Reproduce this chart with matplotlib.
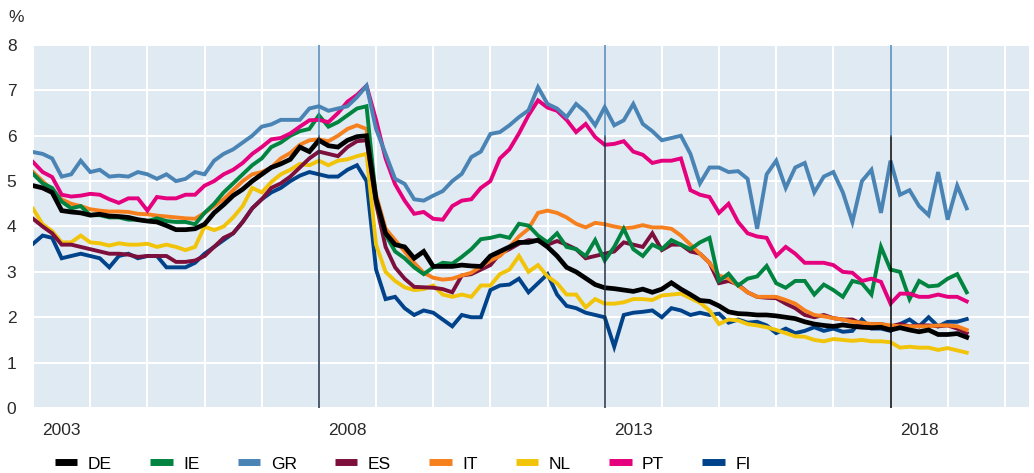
import numpy as np
import matplotlib.pyplot as plt

# bi-monthly observations, Jan 2003 .. May 2019
dates = 2003 + np.arange(99) / 6

de = [4.9, 4.85, 4.75, 4.35, 4.32, 4.3, 4.25, 4.27, 4.23, 4.22, 4.2, 4.15, 4.12, 4.1, 4.02, 3.93, 3.93, 3.95, 4.05, 4.3, 4.48, 4.68, 4.82, 5.0, 5.15,
      5.3, 5.38, 5.48, 5.75, 5.65, 5.9, 5.78, 5.75, 5.9, 5.98, 6.0,
      4.6, 3.85, 3.6, 3.55, 3.3, 3.45, 3.12, 3.12, 3.12, 3.15,
      3.13, 3.12, 3.35, 3.45, 3.55, 3.65, 3.65, 3.7, 3.55, 3.35, 3.1, 3.0, 2.86, 2.72, 2.65, 2.63, 2.6, 2.57, 2.62,
      2.55, 2.62, 2.76, 2.62, 2.5, 2.37, 2.35, 2.25, 2.12, 2.08, 2.07, 2.05, 2.05, 2.03, 2.0, 1.97, 1.9, 1.85,
      1.82, 1.8, 1.83, 1.8, 1.78, 1.77, 1.78, 1.72, 1.77, 1.72, 1.68, 1.72, 1.62, 1.62, 1.64, 1.56]

ie = [5.16, 4.95, 4.85, 4.55, 4.4, 4.45, 4.25, 4.25, 4.2, 4.2, 4.15, 4.15, 4.12, 4.18, 4.12, 4.1, 4.1, 4.05, 4.3, 4.5, 4.75, 4.95, 5.15, 5.35, 5.5,
      5.75, 5.85, 6.0, 6.1, 6.15, 6.45, 6.2, 6.3, 6.45, 6.6, 6.65,
      4.6, 3.82, 3.45, 3.3, 3.1, 2.95, 3.1, 3.2, 3.18, 3.33,
      3.5, 3.72, 3.75, 3.8, 3.75, 4.06, 4.02, 3.8, 3.65, 3.85, 3.55, 3.5, 3.35, 3.7, 3.25, 3.55, 3.95, 3.5, 3.35,
      3.6, 3.5, 3.7, 3.6, 3.5, 3.65, 3.75, 2.8, 2.96, 2.7, 2.85, 2.9, 3.13, 2.75, 2.65, 2.8, 2.8, 2.5,
      2.72, 2.6, 2.45, 2.8, 2.75, 2.5, 3.55, 3.05, 3.0, 2.4, 2.8, 2.68, 2.7, 2.85, 2.95, 2.55]

gr = [5.64, 5.6, 5.5, 5.1, 5.15, 5.45, 5.2, 5.25, 5.1, 5.12, 5.1, 5.2, 5.15, 5.05, 5.15, 5.0, 5.05, 5.2, 5.15, 5.45, 5.6, 5.7, 5.85, 6.0, 6.2,
      6.25, 6.35, 6.35, 6.35, 6.6, 6.65, 6.55, 6.6, 6.65, 6.85, 7.1,
      6.15, 5.6, 5.05, 4.94, 4.6, 4.57, 4.68, 4.78, 5.0, 5.16,
      5.53, 5.65, 6.04, 6.08, 6.23, 6.41, 6.56, 7.07, 6.7, 6.6, 6.41, 6.7, 6.52, 6.23, 6.63, 6.23, 6.34, 6.7, 6.26,
      6.1, 5.9, 5.95, 6.0, 5.6, 4.95, 5.3, 5.3, 5.2, 5.22, 5.05, 3.95, 5.15, 5.45, 4.85, 5.3, 5.4, 4.75,
      5.1, 5.2, 4.75, 4.1, 5.0, 5.25, 4.3, 5.45, 4.7, 4.8, 4.45, 4.25, 5.2, 4.15, 4.9, 4.4]

es = [4.17, 4.0, 3.85, 3.6, 3.6, 3.55, 3.5, 3.45, 3.4, 3.4, 3.38, 3.33, 3.35, 3.35, 3.35, 3.22, 3.22, 3.25, 3.35, 3.55, 3.75, 3.85, 4.1, 4.4, 4.6,
      4.85, 4.95, 5.1, 5.3, 5.5, 5.65, 5.6, 5.55, 5.75, 5.88, 5.9,
      4.5, 3.55, 3.1, 2.85, 2.67, 2.66, 2.65, 2.62, 2.55, 2.92,
      2.95, 3.05, 3.15, 3.4, 3.5, 3.62, 3.7, 3.68, 3.6, 3.68, 3.6, 3.5, 3.3, 3.35, 3.4, 3.45, 3.65, 3.6, 3.55,
      3.85, 3.48, 3.6, 3.6, 3.45, 3.4, 3.2, 2.75, 2.8, 2.72, 2.55, 2.45, 2.43, 2.42, 2.3, 2.2, 2.05, 2.0,
      2.05, 1.98, 1.95, 1.95, 1.85, 1.85, 1.85, 1.8, 1.85, 1.8, 1.82, 1.82, 1.8, 1.82, 1.75, 1.65]

it = [5.2, 5.0, 4.8, 4.6, 4.5, 4.45, 4.38, 4.35, 4.33, 4.33, 4.32, 4.28, 4.27, 4.24, 4.22, 4.2, 4.18, 4.17, 4.3, 4.45, 4.6, 4.8, 5.0, 5.15, 5.2,
      5.3, 5.5, 5.62, 5.8, 5.9, 5.92, 5.88, 6.0, 6.15, 6.23, 6.15,
      4.7, 3.95, 3.7, 3.45, 3.2, 2.98, 2.87, 2.83, 2.85, 2.92,
      2.98, 3.12, 3.25, 3.35, 3.55, 3.78, 3.95, 4.3, 4.35, 4.3, 4.2, 4.06, 3.98, 4.08, 4.05, 4.0, 3.96, 3.98, 4.03,
      3.98, 3.98, 3.95, 3.8, 3.6, 3.4, 3.2, 2.92, 2.85, 2.7, 2.55, 2.45, 2.45, 2.45, 2.38, 2.3, 2.15, 2.05,
      2.02, 1.98, 1.95, 1.9, 1.88, 1.85, 1.85, 1.82, 1.8, 1.8, 1.8, 1.8, 1.82, 1.82, 1.8, 1.72]

nl = [4.39, 4.05, 3.9, 3.65, 3.65, 3.8, 3.65, 3.63, 3.58, 3.63, 3.6, 3.6, 3.62, 3.55, 3.6, 3.55, 3.48, 3.55, 4.0, 3.92, 4.0, 4.2, 4.45, 4.85, 4.75,
      4.98, 5.15, 5.25, 5.38, 5.35, 5.45, 5.35, 5.45, 5.48, 5.55, 5.6,
      3.6, 3.0, 2.8, 2.66, 2.6, 2.62, 2.7, 2.5, 2.45, 2.5,
      2.45, 2.7, 2.7, 2.95, 3.05, 3.35, 3.0, 3.15, 2.9, 2.75, 2.5, 2.5, 2.22, 2.4, 2.3, 2.3, 2.33, 2.4, 2.4,
      2.38, 2.48, 2.5, 2.52, 2.42, 2.32, 2.15, 1.85, 1.95, 1.93, 1.85, 1.82, 1.78, 1.72, 1.65, 1.58, 1.57, 1.5,
      1.47, 1.52, 1.5, 1.48, 1.5, 1.47, 1.47, 1.45, 1.33, 1.35, 1.33, 1.33, 1.28, 1.32, 1.27, 1.22]

pt = [5.42, 5.2, 5.09, 4.7, 4.66, 4.68, 4.72, 4.7, 4.6, 4.52, 4.62, 4.62, 4.35, 4.65, 4.62, 4.62, 4.7, 4.7, 4.9, 5.0, 5.15, 5.25, 5.4, 5.6, 5.75,
      5.92, 5.95, 6.05, 6.2, 6.34, 6.35, 6.3, 6.5, 6.75, 6.9, 7.1,
      6.35, 5.5, 4.93, 4.57, 4.28, 4.32, 4.17, 4.15, 4.45, 4.57,
      4.6, 4.85, 5.0, 5.5, 5.7, 6.05, 6.45, 6.78, 6.62, 6.55, 6.35, 6.08, 6.26, 5.97, 5.8, 5.82, 5.88, 5.65, 5.58,
      5.4, 5.45, 5.45, 5.5, 4.8, 4.7, 4.65, 4.3, 4.5, 4.1, 3.85, 3.78, 3.75, 3.35, 3.55, 3.4, 3.2, 3.2,
      3.2, 3.15, 3.0, 2.98, 2.8, 2.85, 2.78, 2.3, 2.52, 2.52, 2.45, 2.45, 2.5, 2.45, 2.45, 2.35]

fi = [3.62, 3.8, 3.75, 3.3, 3.35, 3.4, 3.35, 3.3, 3.1, 3.35, 3.4, 3.3, 3.35, 3.35, 3.1, 3.1, 3.1, 3.2, 3.4, 3.55, 3.7, 3.85, 4.1, 4.4, 4.6,
      4.75, 4.85, 5.0, 5.12, 5.2, 5.15, 5.1, 5.1, 5.25, 5.35, 5.0,
      3.05, 2.4, 2.45, 2.2, 2.05, 2.15, 2.1, 1.95, 1.8, 2.05,
      2.0, 2.0, 2.6, 2.7, 2.72, 2.85, 2.55, 2.75, 2.95, 2.5, 2.25, 2.2, 2.1, 2.05, 2.0, 1.35, 2.05, 2.1, 2.12,
      2.15, 2.0, 2.2, 2.15, 2.05, 2.1, 2.05, 2.08, 1.88, 1.95, 1.88, 1.9, 1.82, 1.65, 1.75, 1.65, 1.7, 1.78,
      1.7, 1.75, 1.68, 1.7, 1.95, 1.75, 1.75, 1.7, 1.85, 1.95, 1.8, 2.0, 1.8, 1.9, 1.9, 1.96]

labels = ['DE', 'IE', 'GR', 'ES', 'IT', 'NL', 'PT', 'FI']
series = [de, ie, gr, es, it, nl, pt, fi]
colors = ['#000000', '#00843f', '#4a84b5', '#7c0f3b', '#f7801e', '#f1c40a', '#e5007d', '#00438a']
year_labels = ['2003', '2008', '2013', '2018']

plt.rcParams['font.family'] = ['Liberation Sans', 'DejaVu Sans']

fig = plt.figure(figsize=(10.34, 4.73), dpi=100)
ax = fig.add_axes([0.032, 0.1374, 0.963, 0.7675])
ax.set_facecolor('#e0eaf3')

# draw back-to-front so DE ends on top
order = [7, 5, 3, 4, 1, 6, 2, 0]
for n, i in enumerate(order):
    lw = 3.4 if labels[i] == 'DE' else 2.8
    ax.plot(dates, series[i], color=colors[i], lw=lw, label=labels[i], zorder=3 + n * 0.1,
            solid_joinstyle='miter')

for yr in (2008, 2013, 2018):
    ax.axvline(yr, ymin=0, ymax=6 / 8, color='#1b2d45' if yr != 2018 else '#000000', lw=1.1, zorder=5)
    ax.axvline(yr, ymin=6 / 8, ymax=1, color='#4a84b5', lw=1.1, zorder=5)

ax.set_xlim(2003, 2020.42)
ax.set_ylim(0, 8)
ax.set_xticks(np.arange(2003, 2021))
ax.set_xticklabels([])
ax.set_xticks([int(y) + 0.5 for y in year_labels], minor=True)
ax.set_xticklabels(year_labels, minor=True)
ax.set_yticks(range(0, 9))
ax.grid(True, which='major', color='white', lw=1.5, zorder=1)
ax.set_axisbelow(True)
ax.tick_params(which='both', length=0, labelsize=12.5, colors='#2a2a2a')
ax.tick_params(axis='x', which='minor', pad=11)
ax.tick_params(axis='y', pad=12)
for s in ax.spines.values():
    s.set_visible(False)

fig.text(0.008, 0.962, '%', fontsize=12.5, color='#2a2a2a', va='center')

handles, labs = ax.get_legend_handles_labels()
hmap = dict(zip(labs, handles))
leg = fig.legend([hmap[l] for l in labels], labels, loc='lower left', bbox_to_anchor=(0.038, -0.03),
                 ncol=8, frameon=False, fontsize=12.5, handlelength=1.3, handletextpad=0.6,
                 columnspacing=2.2)
for h in leg.legend_handles:
    h.set_linewidth(5)
    h.set_solid_capstyle('butt')

fig.savefig('out.png', dpi=100)
